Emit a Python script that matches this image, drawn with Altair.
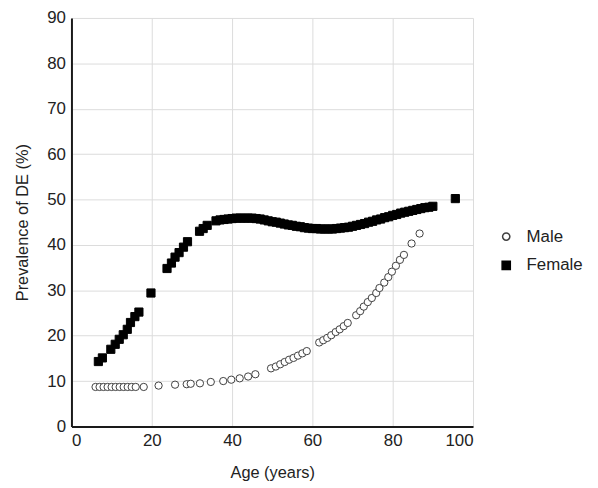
import altair as alt
import pandas as pd

# values
male_age = [6, 7, 8, 9, 10, 11, 12, 13, 14, 15, 16, 18, 21.7, 25.8, 28.7, 29.7,
            32, 34.7, 37.8, 39.8, 41.9, 44, 45.8, 49.7, 50.9, 52, 53.1, 54.2,
            55.3, 56.4, 57.5, 58.6, 61.7, 62.7, 63.7, 64.7, 65.8, 66.8, 67.8,
            68.8, 70.9, 71.9, 72.8, 73.8, 74.8, 75.9, 76.7, 77.9, 78.9, 79.8,
            80.8, 81.8, 82.8, 84.7, 86.7]
male_prev = [8.7, 8.7, 8.7, 8.7, 8.7, 8.7, 8.7, 8.7, 8.7, 8.7, 8.7, 8.7, 9.0,
             9.2, 9.3, 9.4, 9.5, 9.8, 10.0, 10.3, 10.6, 11.0, 11.5, 12.8, 13.2,
             13.7, 14.2, 14.7, 15.1, 15.6, 16.1, 16.6, 18.5, 19.0, 19.5, 20.1,
             20.8, 21.4, 22.1, 22.8, 24.5, 25.4, 26.4, 27.4, 28.3, 29.4, 30.5,
             31.7, 32.9, 34.1, 35.4, 36.7, 37.8, 40.3, 42.5]

female_age = [6.7, 7.7, 9.8, 10.9, 11.9, 12.9, 13.9, 14.7, 15.8, 16.8, 19.8,
              23.8, 24.9, 25.8, 26.8, 27.9, 28.9, 31.9, 32.8, 33.8,
              36, 37, 38, 39, 40, 41, 42, 43, 44, 45, 46, 47, 48, 49, 50, 51,
              52, 53, 54, 55, 56, 57, 58, 59, 60, 61, 62, 63, 64, 65, 66, 67,
              68, 69, 70, 71, 72, 73, 74, 75, 76, 77, 78, 79, 80, 81, 82, 83,
              84, 85, 86, 87, 88, 89, 90, 95.6]
female_prev = [14.3, 15.1, 17.0, 18.1, 19.2, 20.2, 21.4, 22.9, 24.2, 25.2, 29.4,
               34.8, 36.0, 37.3, 38.3, 39.5, 40.7, 43.0, 43.6, 44.3,
               45.3, 45.5, 45.6, 45.7, 45.8, 45.9, 45.9, 45.9, 45.9, 45.9,
               45.8, 45.7, 45.5, 45.3, 45.1, 45.0, 44.8, 44.6, 44.4, 44.3,
               44.1, 44.0, 43.8, 43.7, 43.6, 43.6, 43.5, 43.5, 43.5, 43.5,
               43.6, 43.7, 43.8, 43.9, 44.1, 44.3, 44.5, 44.7, 45.0, 45.2,
               45.5, 45.7, 46.0, 46.2, 46.5, 46.7, 47.0, 47.2, 47.4, 47.6,
               47.8, 48.0, 48.2, 48.3, 48.5, 50.2]

df = pd.concat([
    pd.DataFrame({"Age": male_age, "Prev": male_prev, "Sex": "Male"}),
    pd.DataFrame({"Age": female_age, "Prev": female_prev, "Sex": "Female"}),
])

sexos = ["Male", "Female"]
fonte = "Liberation Sans"

chart = alt.Chart(df).mark_point(opacity=1, strokeWidth=1).encode(
    x=alt.X("Age:Q", title="Age (years)",
            scale=alt.Scale(domain=[0, 100], nice=False),
            axis=alt.Axis(values=[0, 20, 40, 60, 80, 100], titlePadding=16)),
    y=alt.Y("Prev:Q", title="Prevalence of DE (%)",
            scale=alt.Scale(domain=[0, 90], nice=False),
            axis=alt.Axis(values=list(range(0, 100, 10)), titlePadding=16)),
    shape=alt.Shape("Sex:N", title=None,
                    scale=alt.Scale(domain=sexos, range=["circle", "square"])),
    fill=alt.Fill("Sex:N", title=None,
                  scale=alt.Scale(domain=sexos, range=["#ffffff", "#000000"])),
    stroke=alt.Stroke("Sex:N", title=None,
                      scale=alt.Scale(domain=sexos, range=["#404040", "#000000"])),
    size=alt.Size("Sex:N", title=None,
                  scale=alt.Scale(domain=sexos, range=[54, 68])),
).properties(
    width=405,
    height=412,
    autosize=alt.AutoSizeParams(type="none"),
    padding={"left": 64, "top": 8, "right": 118, "bottom": 54},
).configure_view(
    stroke=None
).configure_axis(
    grid=True,
    gridColor="#dcdcdc",
    gridWidth=1,
    domainColor="#1a1a1a",
    domainWidth=2,
    ticks=False,
    labelFont=fonte,
    labelFontSize=17,
    labelColor="#222222",
    labelPadding=6,
    titleFont=fonte,
    titleFontSize=16.5,
    titleFontWeight="normal",
    titleColor="#222222",
).configure_legend(
    orient="none",
    legendX=430,
    legendY=212,
    labelFont=fonte,
    labelFontSize=17,
    labelColor="#222222",
    labelOffset=12,
    rowPadding=11,
    padding=0,
)

chart.save("out.html", embed_options={"renderer": "svg", "actions": False})
